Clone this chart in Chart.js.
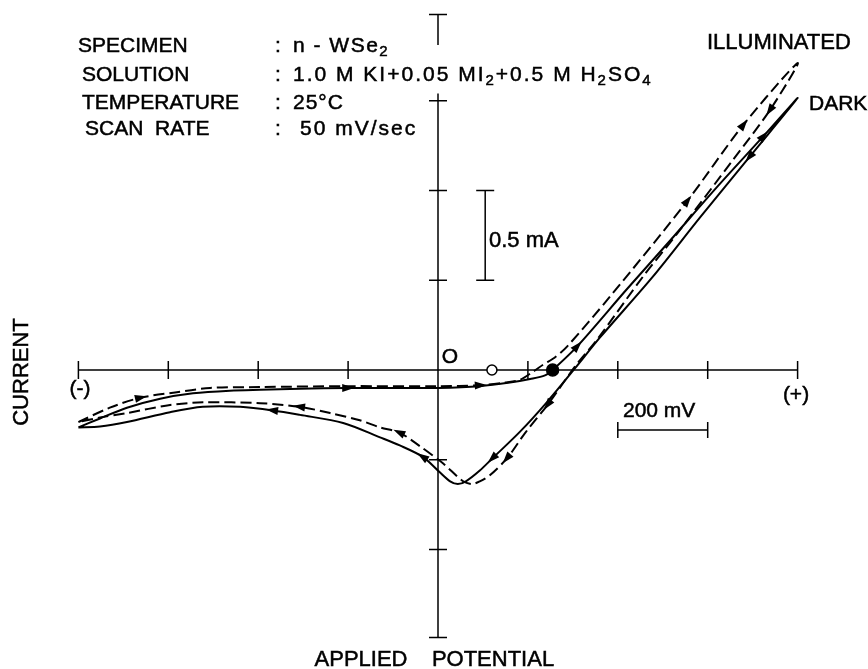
<!DOCTYPE html>
<html>
<head>
<meta charset="utf-8">
<script src="https://cdn.jsdelivr.net/npm/chart.js@4.4.0/dist/chart.umd.min.js"></script>
<style>
  html, body { margin: 0; padding: 0; background: #fff; overflow: hidden; }
  canvas { display: block; }
</style>
</head>
<body>
<canvas id="cv" width="868" height="669"></canvas>
<script>
// potential in mV, current in mA

// dark, forward scan (- to +)
const darkFwdV = [-800, -752, -692, -618, -545, -463, -396, -307, -202, -85, 0, 93, 160, 205, 238, 255, 309, 420, 516, 621, 723, 800];
const darkFwdI = [-0.32, -0.27, -0.21, -0.16, -0.13, -0.115, -0.11, -0.105, -0.10, -0.10, -0.10, -0.09, -0.07, -0.05, -0.03, 0, 0.13, 0.45, 0.72, 1.02, 1.30, 1.515];
// dark, reverse scan (+ to -)
const darkRevV = [800, 694, 583, 478, 360, 305, 242, 182, 122, 93, 62, 44, 27, 4, -33, -85, -129, -211, -307, -367, -440, -523, -596, -692, -752, -800];
const darkRevI = [1.515, 1.19, 0.85, 0.52, 0.18, 0.01, -0.18, -0.345, -0.49, -0.56, -0.62, -0.635, -0.62, -0.57, -0.485, -0.42, -0.375, -0.295, -0.25, -0.225, -0.205, -0.205, -0.235, -0.29, -0.315, -0.32];

// illuminated, forward scan
const illumFwdV = [-800, -730, -663, -585, -507, -396, -202, 0, 93, 149, 182, 211, 234, 260, 287, 383, 554, 679, 800];
const illumFwdI = [-0.29, -0.21, -0.155, -0.125, -0.10, -0.095, -0.09, -0.09, -0.085, -0.07, -0.055, -0.01, 0.03, 0.07, 0.13, 0.41, 0.94, 1.365, 1.71];
// illuminated, reverse scan
const illumRevV = [800, 739, 656, 532, 456, 354, 305, 245, 194, 154, 116, 93, 76, 56, 11, -40, -85, -129, -174, -240, -307, -396, -523, -596, -692, -752, -800];
const illumRevI = [1.71, 1.45, 1.17, 0.76, 0.52, 0.17, 0.02, -0.19, -0.35, -0.49, -0.585, -0.62, -0.635, -0.62, -0.52, -0.425, -0.35, -0.32, -0.28, -0.24, -0.205, -0.185, -0.18, -0.195, -0.24, -0.265, -0.29];

// which points of each branch carry a direction arrow
const darkFwdArrows = [8, 16, 20];
const darkRevArrows = [1, 8, 14, 19];
const illumFwdArrows = [2, 8, 16, 17];
const illumRevArrows = [1, 7, 9, 16, 20];

// rest potentials on the axis
const restLight = 120;
const restDark = 255;

// axis ticks
const xTicks = [-800, -600, -400, -200, 200, 400, 600, 800];
const yTicks = [-1.0, -0.5, 0.5, 1.0, 1.5];
const yEnds = [-1.49, 1.98];
const yGap = [1.54, 1.81]; // current axis is broken behind the solution text

function toPoints(vs, is) {
  return vs.map((v, i) => ({ x: v, y: is[i] }));
}

const illumLoop = toPoints(illumFwdV, illumFwdI).concat(toPoints(illumRevV, illumRevI).slice(1));
const darkLoop = toPoints(darkFwdV, darkFwdI).concat(toPoints(darkRevV, darkRevI).slice(1));

// 200 mV per ~90 px, 0.5 mA per ~90 px, origin near the middle
const W = 868, H = 669, ox = 438, oy = 370;
const pxPerMV = 89.9 / 200, pxPerMA = 179.5;

const FONT = '"Liberation Sans", Arial, sans-serif';

// the lettering in the figure is a bit heavier than a plain regular face
function txt(ctx, s, x, y) {
  ctx.fillText(s, x, y);
  ctx.strokeText(s, x, y);
}

function richText(ctx, parts, x, y, size, spacing) {
  // parts: [text, isSubscript]
  let cx = x;
  ctx.letterSpacing = spacing + 'px';
  parts.forEach(([t, sub]) => {
    ctx.font = (sub ? Math.round(size * 0.72) : size) + 'px ' + FONT;
    txt(ctx, t, cx, sub ? y + 6 : y);
    cx += ctx.measureText(t).width;
  });
  ctx.letterSpacing = '0px';
}

function drawArrow(ctx, x, y, vs, is, idx) {
  const p = (k) => [x.getPixelForValue(vs[k]), y.getPixelForValue(is[k])];
  const [px, py] = p(idx);
  const [ax, ay] = p(Math.max(idx - 1, 0));
  const [bx, by] = p(Math.min(idx + 1, vs.length - 1));
  let dx = bx - ax, dy = by - ay;
  const len = Math.hypot(dx, dy) || 1;
  dx /= len; dy /= len;
  const nx = -dy, ny = dx;
  ctx.beginPath();
  ctx.moveTo(px + dx * 7, py + dy * 7);
  ctx.lineTo(px - dx * 5 + nx * 4, py - dy * 5 + ny * 4);
  ctx.lineTo(px - dx * 5 - nx * 4, py - dy * 5 - ny * 4);
  ctx.closePath();
  ctx.fill();
}

const axesPlugin = {
  id: 'axes',
  beforeDatasetsDraw(chart) {
    const { ctx, scales: { x, y } } = chart;
    ctx.save();
    ctx.strokeStyle = '#000';
    ctx.lineWidth = 1.5;
    const x0 = x.getPixelForValue(0), y0 = y.getPixelForValue(0);
    ctx.beginPath();
    // potential axis
    ctx.moveTo(x.getPixelForValue(xTicks[0]), y0);
    ctx.lineTo(x.getPixelForValue(xTicks[xTicks.length - 1]), y0);
    xTicks.forEach(v => {
      const p = x.getPixelForValue(v);
      ctx.moveTo(p, y0 - 9);
      ctx.lineTo(p, y0 + 9);
    });
    // current axis
    ctx.moveTo(x0, y.getPixelForValue(yEnds[0]));
    ctx.lineTo(x0, y.getPixelForValue(yGap[0]));
    ctx.moveTo(x0, y.getPixelForValue(yGap[1]));
    ctx.lineTo(x0, y.getPixelForValue(yEnds[1]));
    yTicks.concat(yEnds).forEach(v => {
      const p = y.getPixelForValue(v);
      ctx.moveTo(x0 - 9, p);
      ctx.lineTo(x0 + 9, p);
    });
    // 0.5 mA scale bar
    const bx = x.getPixelForValue(105);
    const b1 = y.getPixelForValue(0.5), b2 = y.getPixelForValue(1.0);
    ctx.moveTo(bx, b1); ctx.lineTo(bx, b2);
    ctx.moveTo(bx - 9, b1); ctx.lineTo(bx + 9, b1);
    ctx.moveTo(bx - 9, b2); ctx.lineTo(bx + 9, b2);
    // 200 mV scale bar
    const by = y.getPixelForValue(-0.334);
    const c1 = x.getPixelForValue(400), c2 = x.getPixelForValue(600);
    ctx.moveTo(c1, by); ctx.lineTo(c2, by);
    ctx.moveTo(c1, by - 8); ctx.lineTo(c1, by + 8);
    ctx.moveTo(c2, by - 8); ctx.lineTo(c2, by + 8);
    ctx.stroke();
    ctx.restore();
  }
};

const labelPlugin = {
  id: 'labels',
  afterDatasetsDraw(chart) {
    const { ctx, scales: { x, y } } = chart;
    ctx.save();
    ctx.fillStyle = '#000';
    ctx.strokeStyle = '#000';

    // scan direction arrows
    [[darkFwdV, darkFwdI, darkFwdArrows], [darkRevV, darkRevI, darkRevArrows],
     [illumFwdV, illumFwdI, illumFwdArrows], [illumRevV, illumRevI, illumRevArrows]]
      .forEach(([vs, is, list]) => list.forEach(k => drawArrow(ctx, x, y, vs, is, k)));

    ctx.lineWidth = 0.5;
    ctx.textBaseline = 'middle';
    ctx.textAlign = 'left';
    const fs = 21;
    ctx.font = fs + 'px ' + FONT;
    txt(ctx, 'SPECIMEN', 78, 46);
    txt(ctx, 'SOLUTION', 82, 75);
    txt(ctx, 'TEMPERATURE', 82, 103);
    txt(ctx, 'SCAN  RATE', 85, 129);
    [46, 75, 103, 129].forEach(r => txt(ctx, ':', 275, r));
    richText(ctx, [['n - WSe', false], ['2', true]], 293, 46, fs, 1.5);
    richText(ctx, [['1.0 M KI+0.05 MI', false], ['2', true], ['+0.5 M H', false], ['2', true], ['SO', false], ['4', true]], 293, 75, fs, 2);
    richText(ctx, [['25\u00B0C', false]], 293, 103, fs, 1);
    richText(ctx, [['50 mV/sec', false]], 300, 129, fs, 2);

    ctx.font = fs + 'px ' + FONT;
    txt(ctx, 'DARK', 809, 104);
    txt(ctx, '200 mV', 623, 411);
    ctx.font = '22px ' + FONT;
    txt(ctx, 'ILLUMINATED', 707, 43);
    txt(ctx, '0.5 mA', 489, 241);

    ctx.textAlign = 'center';
    ctx.font = fs + 'px ' + FONT;
    txt(ctx, 'O', 450, 357);
    txt(ctx, '(-)', 80, 389);
    txt(ctx, '(+)', 796, 395);
    ctx.font = '22px ' + FONT;
    txt(ctx, 'APPLIED', 361, 660);
    txt(ctx, 'POTENTIAL', 493, 660);

    ctx.translate(22, 372);
    ctx.rotate(-Math.PI / 2);
    txt(ctx, 'CURRENT', 0, 0);
    ctx.restore();
  }
};

new Chart(document.getElementById('cv'), {
  type: 'scatter',
  data: {
    datasets: [
      {
        label: 'rest',
        data: [{ x: restLight, y: 0 }, { x: restDark, y: 0 }],
        showLine: false,
        pointRadius: [5, 6],
        pointBackgroundColor: ['#fff', '#000'],
        pointBorderColor: '#000',
        pointBorderWidth: 1.5
      },
      {
        label: 'ILLUMINATED',
        data: illumLoop,
        showLine: true,
        borderColor: '#000',
        borderWidth: 2,
        borderDash: [11, 5],
        pointRadius: 0,
        tension: 0.3,
        fill: false
      },
      {
        label: 'DARK',
        data: darkLoop,
        showLine: true,
        borderColor: '#000',
        borderWidth: 2,
        pointRadius: 0,
        tension: 0.3,
        fill: false
      }
    ]
  },
  options: {
    responsive: false,
    animation: false,
    devicePixelRatio: 1,
    layout: { padding: 0, autoPadding: false },
    plugins: { legend: { display: false }, tooltip: { enabled: false } },
    scales: {
      x: { type: 'linear', display: false, min: -ox / pxPerMV, max: (W - ox) / pxPerMV },
      y: { type: 'linear', display: false, min: -(H - oy) / pxPerMA, max: oy / pxPerMA }
    }
  },
  plugins: [axesPlugin, labelPlugin]
});
</script>
</body>
</html>
